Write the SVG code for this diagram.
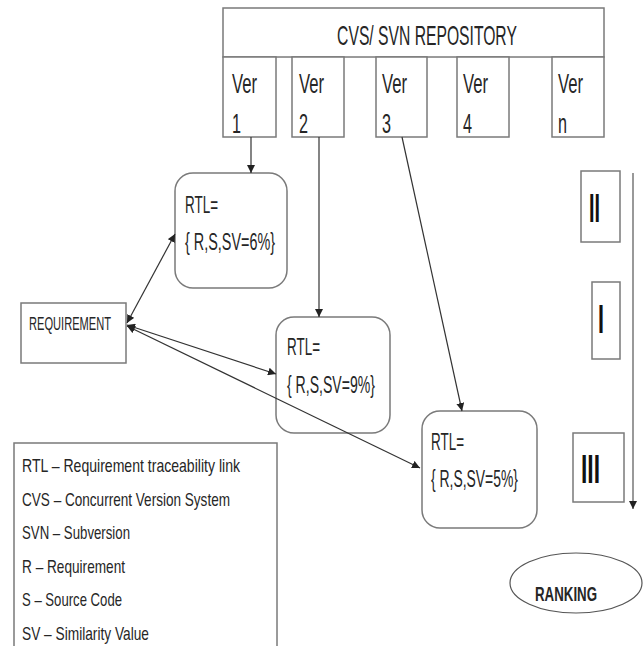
<svg xmlns="http://www.w3.org/2000/svg" width="644" height="646" viewBox="0 0 644 646">
<style>
.box{fill:#fff;stroke:#7a7a7a;stroke-width:1.5}
.t{font-family:"Liberation Sans",Arial,sans-serif;fill:#262626}
.con{stroke:#333;stroke-width:1.2;fill:none}
.rk{font-family:"Liberation Sans",Arial,sans-serif;font-weight:bold;fill:#111;font-size:40px}
</style>
<defs>
<marker id="ah" viewBox="0 0 10 10" refX="10" refY="5" markerWidth="8" markerHeight="8" markerUnits="userSpaceOnUse" orient="auto-start-reverse">
<path d="M0,0 L10,5 L0,10 z" fill="#222"/>
</marker>
</defs>
<rect width="644" height="646" fill="#fff"/>

<g id="repository">
<rect class="box" x="223" y="8" width="381" height="49"/>
<text class="t" x="427" y="45" font-size="28" text-anchor="middle" transform="translate(427,0) scale(0.56,1) translate(-427,0)">CVS/ SVN REPOSITORY</text>
</g>
<g id="ver1">
<rect class="box" x="223" y="57" width="53" height="80"/>
<text class="t" x="232" y="93" font-size="28" textLength="25" lengthAdjust="spacingAndGlyphs">Ver</text>
<text class="t" x="232" y="133" font-size="28" textLength="9" lengthAdjust="spacingAndGlyphs">1</text>
</g>
<g id="ver2">
<rect class="box" x="292" y="57" width="52" height="80"/>
<text class="t" x="299" y="93" font-size="28" textLength="25" lengthAdjust="spacingAndGlyphs">Ver</text>
<text class="t" x="299" y="133" font-size="28" textLength="9" lengthAdjust="spacingAndGlyphs">2</text>
</g>
<g id="ver3">
<rect class="box" x="376" y="57" width="51" height="80"/>
<text class="t" x="382" y="93" font-size="28" textLength="25" lengthAdjust="spacingAndGlyphs">Ver</text>
<text class="t" x="382" y="133" font-size="28" textLength="9" lengthAdjust="spacingAndGlyphs">3</text>
</g>
<g id="ver4">
<rect class="box" x="457" y="57" width="52" height="80"/>
<text class="t" x="463" y="93" font-size="28" textLength="25" lengthAdjust="spacingAndGlyphs">Ver</text>
<text class="t" x="463" y="133" font-size="28" textLength="9" lengthAdjust="spacingAndGlyphs">4</text>
</g>
<g id="vern">
<rect class="box" x="552" y="57" width="52" height="80"/>
<text class="t" x="558" y="93" font-size="28" textLength="25" lengthAdjust="spacingAndGlyphs">Ver</text>
<text class="t" x="558" y="133" font-size="28" textLength="9" lengthAdjust="spacingAndGlyphs">n</text>
</g>

<g id="rtl1">
<rect class="box" x="175" y="173" width="112" height="115" rx="18"/>
<text class="t" x="185" y="213" font-size="23" textLength="33" lengthAdjust="spacingAndGlyphs">RTL=</text>
<text class="t" x="185" y="250" font-size="23" textLength="90" lengthAdjust="spacingAndGlyphs">{ R,S,SV=6%}</text>
</g>
<g id="rtl2">
<rect class="box" x="276" y="317" width="114" height="116" rx="18"/>
<text class="t" x="287" y="355" font-size="23" textLength="33" lengthAdjust="spacingAndGlyphs">RTL=</text>
<text class="t" x="287" y="393" font-size="23" textLength="88" lengthAdjust="spacingAndGlyphs">{ R,S,SV=9%}</text>
</g>
<g id="rtl3">
<rect class="box" x="422" y="411" width="115" height="117" rx="18"/>
<text class="t" x="431" y="450" font-size="23" textLength="33" lengthAdjust="spacingAndGlyphs">RTL=</text>
<text class="t" x="431" y="487" font-size="23" textLength="87" lengthAdjust="spacingAndGlyphs">{ R,S,SV=5%}</text>
</g>

<g id="requirement">
<rect class="box" x="21" y="303" width="105" height="60"/>
<text class="t" x="29" y="330" font-size="19" textLength="82" lengthAdjust="spacingAndGlyphs">REQUIREMENT</text>
</g>

<g id="rank2">
<rect class="box" x="581" y="171" width="39" height="71"/>
<text class="rk" x="589" y="222" textLength="11" lengthAdjust="spacingAndGlyphs">II</text>
</g>
<g id="rank1">
<rect class="box" x="592" y="282" width="28" height="77"/>
<text class="rk" x="598" y="333" textLength="6" lengthAdjust="spacingAndGlyphs">I</text>
</g>
<g id="rank3">
<rect class="box" x="573" y="433" width="51" height="69"/>
<text class="rk" x="581" y="483" textLength="19" lengthAdjust="spacingAndGlyphs">III</text>
</g>

<g id="ranking">
<ellipse cx="576" cy="583" rx="66" ry="30" fill="#fff" stroke="#555" stroke-width="1.2"/>
<text class="t" x="535" y="601" font-size="21" font-weight="bold" textLength="62" lengthAdjust="spacingAndGlyphs">RANKING</text>
</g>

<g id="legend">
<rect class="box" x="14" y="443" width="263" height="215"/>
<text class="t" x="22" y="472" font-size="19" textLength="218" lengthAdjust="spacingAndGlyphs">RTL – Requirement  traceability link</text>
<text class="t" x="22" y="505.5" font-size="19" textLength="208" lengthAdjust="spacingAndGlyphs">CVS – Concurrent  Version System</text>
<text class="t" x="22" y="539" font-size="19" textLength="108" lengthAdjust="spacingAndGlyphs">SVN – Subversion</text>
<text class="t" x="22" y="572.5" font-size="19" textLength="103" lengthAdjust="spacingAndGlyphs">R – Requirement</text>
<text class="t" x="22" y="606" font-size="19" textLength="100" lengthAdjust="spacingAndGlyphs">S – Source Code</text>
<text class="t" x="22" y="640" font-size="19" textLength="127" lengthAdjust="spacingAndGlyphs">SV – Similarity Value</text>
</g>

<g id="connectors">
<line class="con" x1="251" y1="137" x2="251" y2="173" marker-end="url(#ah)"/>
<line class="con" x1="319" y1="137" x2="319" y2="317" marker-end="url(#ah)"/>
<line class="con" x1="402" y1="137" x2="462" y2="411" marker-end="url(#ah)"/>
<line class="con" x1="127" y1="323" x2="175" y2="234" marker-start="url(#ah)" marker-end="url(#ah)"/>
<line class="con" x1="127" y1="325" x2="276" y2="374" marker-start="url(#ah)" marker-end="url(#ah)"/>
<line class="con" x1="127" y1="326" x2="420" y2="468" marker-start="url(#ah)" marker-end="url(#ah)"/>
<line x1="633" y1="173" x2="633" y2="509" stroke="#777" stroke-width="1.5" marker-end="url(#ah)"/>
</g>
</svg>
